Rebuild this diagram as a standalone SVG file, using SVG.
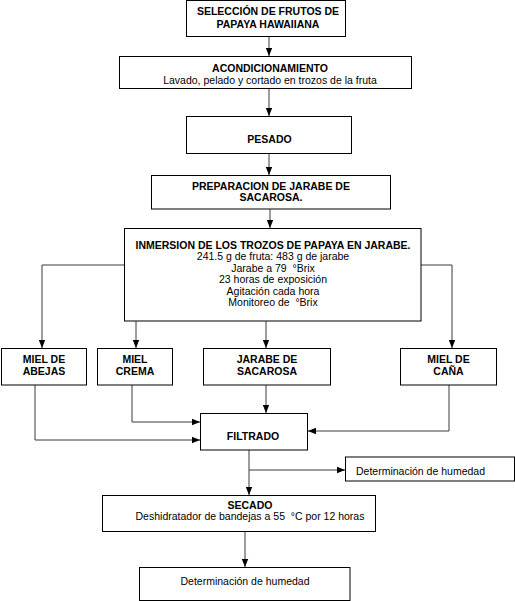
<svg xmlns="http://www.w3.org/2000/svg" width="515" height="601" viewBox="0 0 515 601">
<defs>
<style>
.box{fill:#fff;stroke:#000;stroke-width:1}
.t{font-family:"Liberation Sans",Arial,sans-serif;font-size:10.5px;fill:#000;text-anchor:middle}
.b{font-weight:bold}
.c{fill:none;stroke:#3a3a3a;stroke-width:1}
</style>
<marker id="ah" viewBox="0 0 10 10" refX="10" refY="5" markerWidth="8" markerHeight="8" markerUnits="userSpaceOnUse" orient="auto">
<path d="M0,1 L10,5 L0,9 z" fill="#000"/>
</marker>
</defs>
<rect width="515" height="601" fill="#fff"/>
<g id="connectors">
<path class="c" marker-end="url(#ah)" d="M269,37 V56"/>
<path class="c" marker-end="url(#ah)" d="M269,89 V116"/>
<path class="c" marker-end="url(#ah)" d="M269,153 V175"/>
<path class="c" marker-end="url(#ah)" d="M270,209 V228"/>
<path class="c" marker-end="url(#ah)" d="M124,265 H42 V348"/>
<path class="c" marker-end="url(#ah)" d="M136,321 V348"/>
<path class="c" marker-end="url(#ah)" d="M266,321 V348"/>
<path class="c" marker-end="url(#ah)" d="M421,265 H452 V348"/>
<path class="c" marker-end="url(#ah)" d="M35,385 V440 H200"/>
<path class="c" marker-end="url(#ah)" d="M132,385 V422 H200"/>
<path class="c" marker-end="url(#ah)" d="M266,385 V413"/>
<path class="c" marker-end="url(#ah)" d="M449,385 V431 H308"/>
<path class="c" marker-end="url(#ah)" d="M249,450 V495"/>
<path class="c" marker-end="url(#ah)" d="M249,470 H345"/>
<path class="c" marker-end="url(#ah)" d="M245,532 V567"/>
</g>
<g id="seleccion">
<rect class="box" x="186.5" y="0.5" width="159" height="36"/>
<text class="t b" x="268" y="15">SELECCIÓN DE FRUTOS DE</text>
<text class="t b" x="268" y="27.5">PAPAYA HAWAIIANA</text>
</g>
<g id="acondicionamiento">
<rect class="box" x="119.5" y="56.5" width="292" height="32"/>
<text class="t b" x="270" y="72">ACONDICIONAMIENTO</text>
<text class="t" x="270" y="83.5">Lavado, pelado y cortado en trozos de la fruta</text>
</g>
<g id="pesado">
<rect class="box" x="186.5" y="116.5" width="165" height="37"/>
<text class="t b" x="269.5" y="143">PESADO</text>
</g>
<g id="preparacion">
<rect class="box" x="151.5" y="175.5" width="239" height="33.5"/>
<text class="t b" x="271" y="190">PREPARACION DE JARABE DE</text>
<text class="t b" x="271" y="201">SACAROSA.</text>
</g>
<g id="inmersion">
<rect class="box" x="124.5" y="228.5" width="296.5" height="92.5"/>
<text class="t b" x="273" y="248.5">INMERSION DE LOS TROZOS DE PAPAYA EN JARABE.</text>
<text class="t" x="273" y="260">241.5 g de fruta: 483 g de jarabe</text>
<text class="t" x="273" y="271.5">Jarabe a 79 &#160;°Brix</text>
<text class="t" x="273" y="283">23 horas de exposición</text>
<text class="t" x="273" y="294.5">Agitación cada hora</text>
<text class="t" x="273" y="306">Monitoreo de &#160;°Brix</text>
</g>
<g id="miel-abejas">
<rect class="box" x="1.5" y="348.5" width="85" height="36.5"/>
<text class="t b" x="44" y="363">MIEL DE</text>
<text class="t b" x="44" y="375">ABEJAS</text>
</g>
<g id="miel-crema">
<rect class="box" x="97.5" y="348.5" width="75" height="36.5"/>
<text class="t b" x="135" y="363">MIEL</text>
<text class="t b" x="135" y="375">CREMA</text>
</g>
<g id="jarabe-sacarosa">
<rect class="box" x="203.5" y="348.5" width="127" height="36.5"/>
<text class="t b" x="267" y="363">JARABE DE</text>
<text class="t b" x="267" y="375">SACAROSA</text>
</g>
<g id="miel-cana">
<rect class="box" x="400.5" y="348.5" width="96" height="36.5"/>
<text class="t b" x="448.5" y="363">MIEL DE</text>
<text class="t b" x="448.5" y="375">CAÑA</text>
</g>
<g id="filtrado">
<rect class="box" x="200.5" y="413.5" width="107" height="36.5"/>
<text class="t b" x="253" y="440">FILTRADO</text>
</g>
<g id="humedad-1">
<rect class="box" x="345.5" y="457" width="169" height="24"/>
<text class="t" x="356" y="474.5" style="text-anchor:start">Determinación de humedad</text>
</g>
<g id="secado">
<rect class="box" x="102.5" y="495.5" width="273" height="36"/>
<text class="t b" x="250" y="508.5">SECADO</text>
<text class="t" x="250" y="520">Deshidratador de bandejas a 55 &#160;°C por 12 horas</text>
</g>
<g id="humedad-2">
<rect class="box" x="139.5" y="567.5" width="210.5" height="33"/>
<text class="t" x="245" y="585">Determinación de humedad</text>
</g>
</svg>
